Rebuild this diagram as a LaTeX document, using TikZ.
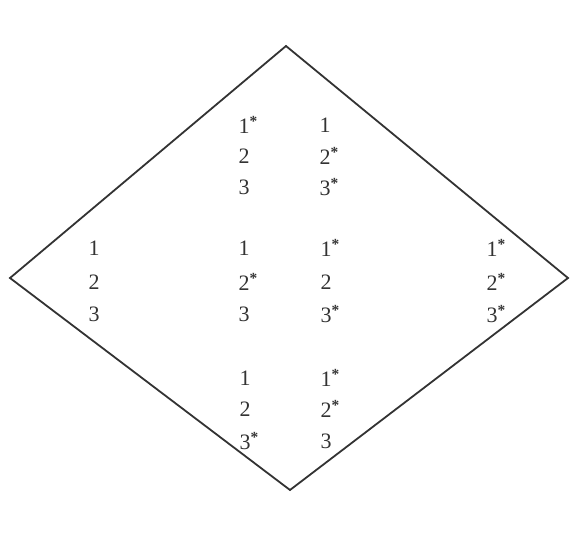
\documentclass[tikz,border=0pt]{standalone}
\usepackage{fontspec}
\setmainfont{Liberation Serif}
\definecolor{ink}{HTML}{333333}
\definecolor{txt}{HTML}{333333}
\newcommand{\st}[1]{#1\rlap{\textsuperscript{\textbf{*}}}}
\begin{document}
\begin{tikzpicture}[x=1pt,y=-1pt,
  num/.style={inner sep=0pt, text=txt, font=\fontsize{22}{26}\selectfont},
  edge/.style={draw=ink, line width=1.8pt, line join=miter}]
\useasboundingbox (0,0) rectangle (571,552);
\coordinate (T) at (286,46);
\coordinate (L) at (10,278);
\coordinate (B) at (290,490);
\coordinate (R) at (568,278);
\draw[edge] (T) -- (R) -- (B) -- (L) -- cycle;
% top group
\node[num] (a1) at (244,125) {\st{1}};
\node[num] (a2) at (244,156) {2};
\node[num] (a3) at (244,187) {3};
\node[num] (b1) at (325,125) {1};
\node[num] (b2) at (325,156) {\st{2}};
\node[num] (b3) at (325,187) {\st{3}};
% middle group
\node[num] (l1) at (94,248) {1};
\node[num] (l2) at (94,282) {2};
\node[num] (l3) at (94,314) {3};
\node[num] (c1) at (244,248) {1};
\node[num] (c2) at (244,282) {\st{2}};
\node[num] (c3) at (244,314) {3};
\node[num] (d1) at (326,248) {\st{1}};
\node[num] (d2) at (326,282) {2};
\node[num] (d3) at (326,314) {\st{3}};
\node[num] (r1) at (492,248) {\st{1}};
\node[num] (r2) at (492,282) {\st{2}};
\node[num] (r3) at (492,314) {\st{3}};
% bottom group
\node[num] (e1) at (245,378) {1};
\node[num] (e2) at (245,409) {2};
\node[num] (e3) at (245,441) {\st{3}};
\node[num] (f1) at (326,378) {\st{1}};
\node[num] (f2) at (326,409) {\st{2}};
\node[num] (f3) at (326,441) {3};
\end{tikzpicture}
\end{document}
